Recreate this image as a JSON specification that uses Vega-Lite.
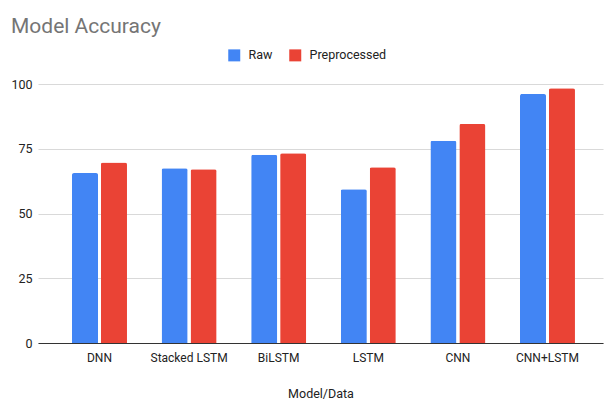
{
  "$schema": "https://vega.github.io/schema/vega-lite/v6.json",
  "autosize": "none",
  "width": 565,
  "height": 259,
  "padding": {"left": 38, "top": 84, "right": 2, "bottom": 57},
  "background": "white",
  "title": {
    "text": "Model Accuracy",
    "anchor": "start",
    "frame": "group",
    "dx": -27,
    "offset": 12,
    "font": "Roboto",
    "fontSize": 21,
    "fontWeight": "normal",
    "color": "#757575"
  },
  "data": {
    "values": [
      {"model": "DNN", "series": "Raw", "accuracy": 65.6},
      {"model": "DNN", "series": "Preprocessed", "accuracy": 69.7},
      {"model": "Stacked LSTM", "series": "Raw", "accuracy": 67.5},
      {"model": "Stacked LSTM", "series": "Preprocessed", "accuracy": 67.1},
      {"model": "BiLSTM", "series": "Raw", "accuracy": 72.7},
      {"model": "BiLSTM", "series": "Preprocessed", "accuracy": 73.3},
      {"model": "LSTM", "series": "Raw", "accuracy": 59.4},
      {"model": "LSTM", "series": "Preprocessed", "accuracy": 67.9},
      {"model": "CNN", "series": "Raw", "accuracy": 78.1},
      {"model": "CNN", "series": "Preprocessed", "accuracy": 84.6},
      {"model": "CNN+LSTM", "series": "Raw", "accuracy": 96.1},
      {"model": "CNN+LSTM", "series": "Preprocessed", "accuracy": 98.4}
    ]
  },
  "mark": {"type": "bar", "cornerRadiusTopLeft": 2, "cornerRadiusTopRight": 2},
  "encoding": {
    "x": {
      "field": "model",
      "type": "nominal",
      "sort": null,
      "title": "Model/Data",
      "scale": {"paddingInner": 0.386, "paddingOuter": 0.346, "align": 0.548},
      "axis": {
        "labelAngle": 0,
        "labelFont": "Roboto",
        "labelFontSize": 12,
        "labelColor": "#222222",
        "labelPadding": 9,
        "ticks": false,
        "domainColor": "#333333",
        "domainWidth": 1,
        "titleFont": "Roboto",
        "titleFontSize": 12.5,
        "titleFontWeight": "normal",
        "titleColor": "#222222",
        "titlePadding": 24
      }
    },
    "xOffset": {
      "field": "series",
      "type": "nominal",
      "sort": ["Raw", "Preprocessed"],
      "scale": {"paddingInner": 0.1}
    },
    "y": {
      "field": "accuracy",
      "type": "quantitative",
      "title": null,
      "scale": {"domain": [0, 100], "nice": false},
      "axis": {
        "values": [0, 25, 50, 75, 100],
        "domain": false,
        "ticks": false,
        "labelPadding": 6,
        "labelFont": "Roboto",
        "labelFontSize": 12.5,
        "labelColor": "#222222",
        "gridColor": "#d9d9d9",
        "gridWidth": 1
      }
    },
    "color": {
      "field": "series",
      "type": "nominal",
      "sort": ["Raw", "Preprocessed"],
      "scale": {"domain": ["Raw", "Preprocessed"], "range": ["#4285F4", "#EA4335"]},
      "legend": {
        "title": null,
        "orient": "none",
        "direction": "horizontal",
        "legendX": 190,
        "legendY": -35,
        "symbolType": "square",
        "symbolSize": 144,
        "symbolStrokeWidth": 0,
        "symbolOpacity": 1,
        "labelFont": "Roboto",
        "labelFontSize": 12.5,
        "labelColor": "#222222",
        "labelOffset": 8,
        "columnPadding": 16
      }
    }
  },
  "config": {"view": {"stroke": null}}
}
